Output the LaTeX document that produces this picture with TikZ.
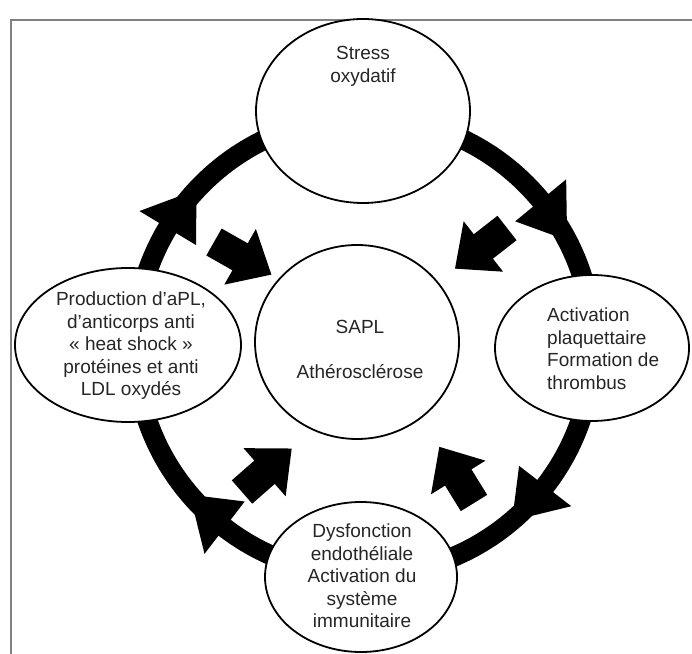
\documentclass[tikz,border=0pt]{standalone}
\usepackage{fontspec}
\setmainfont{Liberation Sans}
\usetikzlibrary{calc,shapes.geometric}
\tikzset{
	bubble/.style={ellipse, draw=black, line width=1.8pt, fill=white, inner sep=0pt},
	caption/.style={align=center, text=black!85, inner sep=0pt,
			font=\fontsize{19}{22.5}\selectfont},
	ring/.style={line width=20pt, black}
}
% block arrow pointing to the centre: tail x, tail y, direction
\newcommand{\inarrow}[3]{%
	\fill[shift={(#1,#2)}, rotate=#3] (0,-15.5) -- (30,-15.5) -- (30,-32) -- (66,0)
	-- (30,32) -- (30,15.5) -- (0,15.5) -- cycle;}

\begin{document}
\begin{tikzpicture}[x=1pt, y=1pt]
		\useasboundingbox (0,0) rectangle (692,653);

		% Frame
		\draw[gray, line width=1.5pt] (11,-20) rectangle (720,633);

		% Ring
		\coordinate (hub) at (364,307);
		\draw[ring] (hub) circle (229pt);

		% Ring arrow heads (clockwise)
		\foreach \a in {149,39.5,-37.7,-127.5}
		\fill ($(hub)+(\a:262pt)$) -- ($(hub)+({\a-12}:229pt)$) -- ($(hub)+(\a:196pt)$) -- cycle;

		% Bubbles
		\node[bubble, minimum width=214pt, minimum height=184pt] (stress) at (363,542) {};
		\node[bubble, minimum width=204pt, minimum height=194pt] (sapl) at (357,311) {};
		\node[bubble, minimum width=226pt, minimum height=154pt] (prod) at (128,308) {};
		\node[bubble, minimum width=194pt, minimum height=146pt] (plaq) at (592,305) {};
		\node[bubble, minimum width=192pt, minimum height=150pt] (dysf) at (361,76) {};

		% Texts
		\node[caption] (stresstxt) at (363,586.5) {Stress\\oxydatif};
		\node[caption] (sapltxt) at (360,303.5) {SAPL\\[22.5pt]Athérosclérose};
		\node[caption] (prodtxt) at (131,307) {Production d’aPL,\\d’anticorps anti\\« heat shock »\\protéines et anti\\LDL oxydés};
		\node[caption, align=left, anchor=west] (plaqtxt) at (547,304.5) {Activation\\plaquettaire\\Formation de\\thrombus};
		\node[caption] (dysftxt) at (362,77) {Dysfonction\\endothéliale\\Activation du\\système\\immunitaire};

		% Arrows to the centre
		\inarrow{214}{411}{-29.6}
		\inarrow{507}{425}{-142}
		\inarrow{242}{161}{41.2}
		\inarrow{474}{150}{121.7}
	\end{tikzpicture}
\end{document}
